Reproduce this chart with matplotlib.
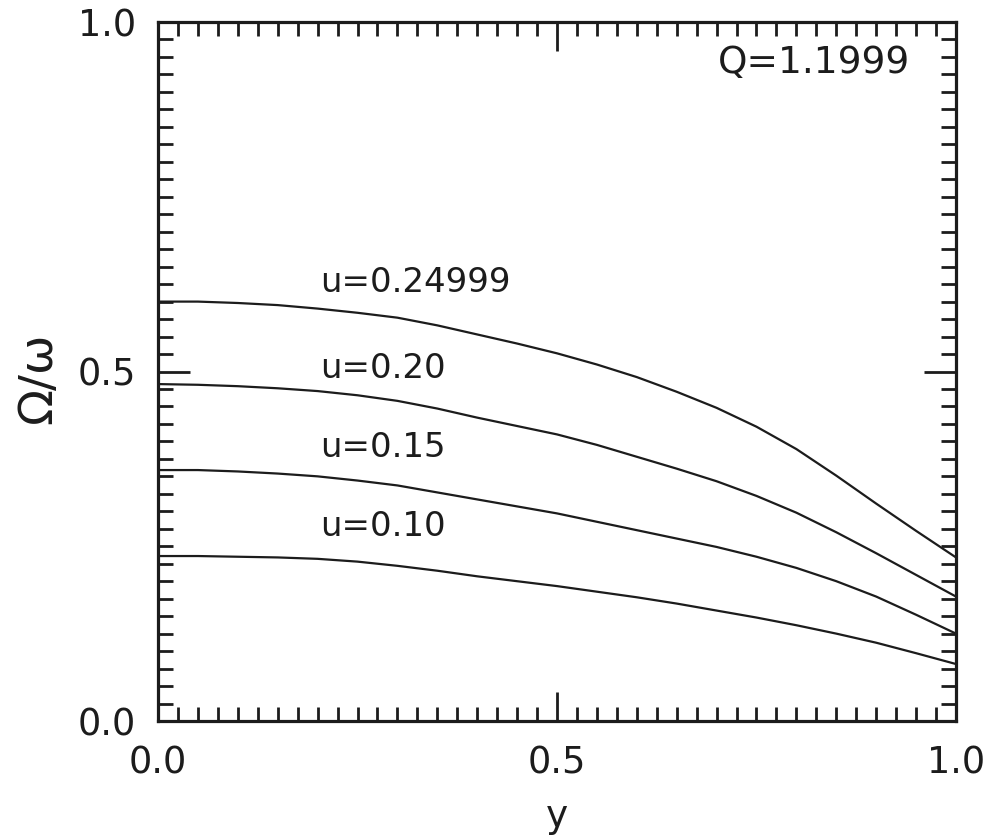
import matplotlib
matplotlib.use("Agg")
import matplotlib.pyplot as plt
from matplotlib.ticker import MultipleLocator

# Data
y_vals = [0.00, 0.05, 0.10, 0.15, 0.20, 0.25, 0.30, 0.35, 0.40, 0.45, 0.50,
          0.55, 0.60, 0.65, 0.70, 0.75, 0.80, 0.85, 0.90, 0.95, 1.00]
u_024999 = [0.600, 0.600, 0.598, 0.595, 0.590, 0.584, 0.577, 0.566, 0.553, 0.540, 0.526,
            0.510, 0.492, 0.471, 0.448, 0.421, 0.389, 0.351, 0.311, 0.272, 0.234]
u_020 = [0.482, 0.481, 0.479, 0.476, 0.472, 0.466, 0.458, 0.447, 0.434, 0.422, 0.410,
         0.395, 0.378, 0.361, 0.343, 0.322, 0.298, 0.270, 0.240, 0.209, 0.178]
u_015 = [0.359, 0.359, 0.357, 0.354, 0.350, 0.344, 0.337, 0.327, 0.317, 0.307, 0.297,
         0.285, 0.273, 0.261, 0.249, 0.235, 0.219, 0.200, 0.178, 0.152, 0.125]
u_010 = [0.236, 0.236, 0.235, 0.234, 0.232, 0.228, 0.222, 0.215, 0.207, 0.200, 0.193,
         0.185, 0.177, 0.168, 0.158, 0.148, 0.137, 0.125, 0.112, 0.097, 0.0815]

series = [u_024999, u_020, u_015, u_010]
labels = ["u=0.24999", "u=0.20", "u=0.15", "u=0.10"]
label_pos = [(0.203, 0.627), (0.203, 0.505), (0.203, 0.391), (0.203, 0.278)]
xticks = [0.0, 0.5, 1.0]
yticks = [0.0, 0.5, 1.0]
tick_labels = ["0.0", "0.5", "1.0"]

ink = "#1c1c1c"
plt.rcParams["font.family"] = ["DejaVu Sans"]

fig = plt.figure(figsize=(9.93, 8.39), dpi=100)
ax = fig.add_axes([158 / 993, 1 - 721 / 839, 798 / 993, 699 / 839])

for s in series:
    ax.plot(y_vals, s, color=ink, lw=1.6)

for lab, (lx, ly) in zip(labels, label_pos):
    ax.text(lx, ly, lab, fontsize=24.5, color=ink, ha="left", va="center")

ax.text(0.942, 0.941, "Q=1.1999", fontsize=27, color=ink, ha="right", va="center")

ax.set_xlim(0, 1)
ax.set_ylim(0, 1)
ax.set_xticks(xticks)
ax.set_xticklabels(tick_labels)
ax.set_yticks(yticks)
ax.set_yticklabels(tick_labels)
ax.xaxis.set_minor_locator(MultipleLocator(0.025))
ax.yaxis.set_minor_locator(MultipleLocator(0.025))

for sp in ax.spines.values():
    sp.set_linewidth(2.3)
    sp.set_color(ink)

ax.tick_params(which="both", direction="in", top=True, right=True, color=ink, width=2.0)
ax.tick_params(axis="x", which="major", length=21, pad=17, labelsize=26.5, labelcolor=ink)
ax.tick_params(axis="y", which="major", length=23, pad=16, labelsize=26.5, labelcolor=ink)
ax.tick_params(axis="x", which="minor", length=10)
ax.tick_params(axis="y", which="minor", length=11)

ax.set_xlabel("y", fontsize=27, color=ink)
ax.xaxis.set_label_coords(0.5, -0.111)
ax.set_ylabel("Ω/ω", fontsize=34, color=ink, va="center")
ax.yaxis.set_label_coords(-0.15, 0.49)

fig.savefig("out.png", dpi=100)
